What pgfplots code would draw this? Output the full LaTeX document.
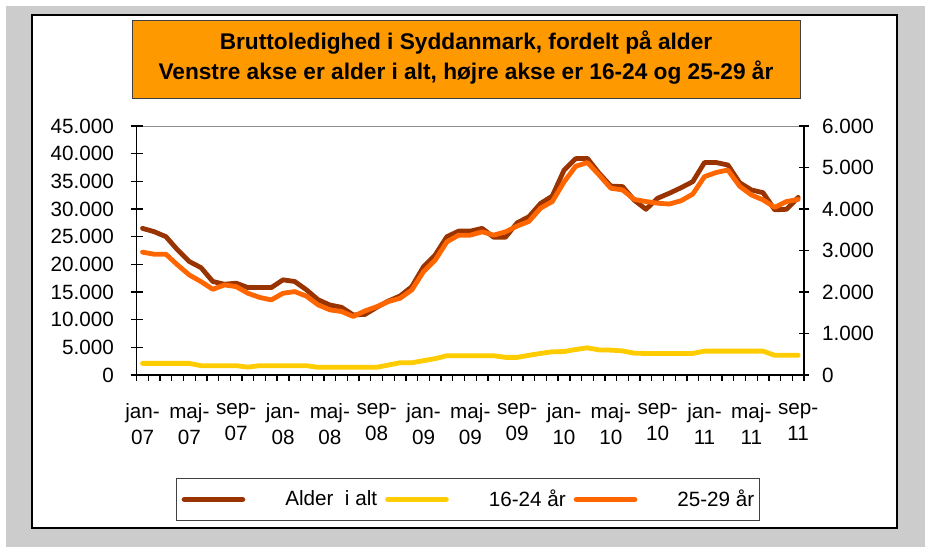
\documentclass[border=0pt]{standalone}
\usepackage{pgfplots}
\usepackage{pgfplotstable}
\pgfplotsset{compat=1.18}
\usepackage{fontspec}
\setmainfont{Liberation Sans}
\definecolor{cBrown}{HTML}{993300}
\definecolor{cYellow}{HTML}{FFCC00}
\definecolor{cOrange}{HTML}{FF6600}
\definecolor{cTitle}{HTML}{FF9900}
\definecolor{cBg}{HTML}{CCCCCC}

\pgfplotstableread{
i alt y16 y25
0 26500 280 2960
1 25900 280 2910
2 25000 280 2910
3 22600 280 2650
4 20500 280 2410
5 19400 225 2250
6 16900 225 2065
7 16400 225 2170
8 16600 225 2130
9 15800 190 1970
10 15800 225 1870
11 15800 225 1810
12 17200 225 1970
13 16900 225 2010
14 15400 225 1900
15 13600 185 1690
16 12650 185 1570
17 12230 185 1530
18 10850 185 1410
19 10950 185 1545
20 12230 185 1645
21 13370 240 1770
22 14280 295 1850
23 15960 295 2050
24 19570 345 2490
25 21700 395 2770
26 25000 465 3210
27 26000 465 3370
28 26000 465 3370
29 26500 465 3450
30 24900 465 3370
31 24900 425 3450
32 27500 425 3590
33 28600 475 3700
34 31000 520 4020
35 32350 560 4180
36 37000 565 4650
37 39100 615 5030
38 39150 655 5120
39 36450 605 4820
40 34150 600 4500
41 34050 580 4460
42 31600 525 4230
43 29950 520 4180
44 31950 520 4140
45 32850 520 4120
46 33850 520 4200
47 34950 520 4360
48 38400 575 4780
49 38400 575 4880
50 37950 575 4940
51 34750 575 4550
52 33450 575 4340
53 32950 575 4220
54 29850 475 4040
55 29950 475 4180
56 32100 475 4230
}\datatab

\pgfplotsset{
  base/.style={
    at={(102.5pt,-281.25pt)}, anchor=south west,
    scale only axis, width=500.5pt, height=186.75pt,
    xmin=-0.5, xmax=56.5,
    axis line style={line width=1pt, black, -},
    tick style={line width=1pt, black},
    ticklabel style={font=\fontsize{15.5}{19.5}\selectfont},
    /pgf/number format/assume math mode=true,
    /pgf/number format/1000 sep={.},
    scaled y ticks=false,
  },
  serie/.style={line width=3.6pt, line join=round, line cap=round},
}

\begin{document}
\begin{tikzpicture}
\begin{scope}[x=0.75pt,y=-0.75pt]
\fill[white] (0,0) rectangle (925,547);
\fill[cBg] (6,6) rectangle (925,547);
\draw[fill=white, line width=1pt] (32,15) rectangle (897,528);
\draw[fill=cTitle, draw=black!75, line width=0.7pt] (132,20) rectangle (800,98);
\node[font=\bfseries\fontsize{17}{20}\selectfont, anchor=base, inner sep=0pt] at (466,49) {Bruttoledighed i Syddanmark, fordelt på alder};
\node[font=\bfseries\fontsize{17}{20}\selectfont, anchor=base, inner sep=0pt] at (466,79) {Venstre akse er alder i alt, højre akse er 16-24 og 25-29 år};
\end{scope}

% x axis + Alder i alt
\begin{axis}[base,
  ymin=0, ymax=45000,
  axis x line*=bottom, axis y line=none,
  tick align=outside, major tick length=4.5pt,
  xtick={-0.5,0.5,...,56.5}, xticklabels={},
  extra x ticks={0,4,...,56},
  extra x tick labels={jan-\\07,maj-\\07,sep-\\07,jan-\\08,maj-\\08,sep-\\08,jan-\\09,maj-\\09,sep-\\09,jan-\\10,maj-\\10,sep-\\10,jan-\\11,maj-\\11,sep-\\11},
  extra x tick style={major tick length=0pt},
  xticklabel style={align=center, yshift=-18pt},
]
\draw[black!45, line width=1pt] (rel axis cs:0,1) -- (rel axis cs:1,1);
\addplot[serie, cBrown] table[x=i, y=alt] {\datatab};
\end{axis}

% left y axis
\begin{axis}[base,
  ymin=0, ymax=45000,
  ytick={0,5000,...,45000},
  axis y line*=left, axis x line=none,
  tick align=center, major tick length=9pt,
  yticklabel style={xshift=-9pt},
]
\end{axis}

% right y axis
\begin{axis}[base,
  ymin=0, ymax=6000,
  ytick={0,1000,...,6000},
  axis y line*=right, axis x line=none,
  tick align=center, major tick length=8pt,
  yticklabel style={xshift=6pt},
  legend columns=3,
  legend image code/.code={\draw[#1, line width=4.2pt, line cap=round] (0pt,0pt) -- (43.5pt,0pt);},
  legend style={at={(0.4965,-0.5)}, anchor=center, draw=black!75, line width=0.7pt,
    font=\fontsize{15.5}{19.5}\selectfont,
    inner xsep=4pt, inner ysep=6pt,
    nodes={inner xsep=0pt, inner ysep=3pt},
    /tikz/every odd column/.append style={column sep=30pt},
    /tikz/every even column/.append style={column sep=6pt}},
]
\addlegendimage{serie, cBrown}
\addlegendentry{Alder\ \ i alt}
\addplot[serie, cYellow] table[x=i, y=y16] {\datatab};
\addlegendentry{16-24 år}
\addplot[serie, cOrange] table[x=i, y=y25] {\datatab};
\addlegendentry{25-29 år}
\end{axis}

\pgfresetboundingbox
\path[use as bounding box] (0pt,0pt) rectangle (693.75pt,-410.25pt);
\end{tikzpicture}
\end{document}
